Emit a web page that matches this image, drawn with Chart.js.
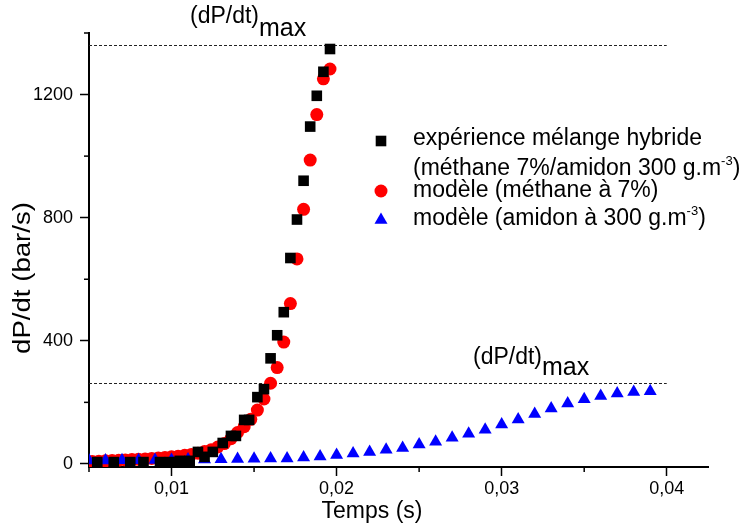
<!DOCTYPE html>
<html>
<head>
<meta charset="utf-8">
<script src="https://cdn.jsdelivr.net/npm/chart.js@4.4.1/dist/chart.umd.min.js"></script>
<style>
  html, body { margin: 0; padding: 0; background: #fff; }
  #wrap { width: 744px; height: 526px; }
</style>
</head>
<body>
<div id="wrap"><canvas id="chart"></canvas></div>
<script>
const FONT = '"Liberation Sans", Arial, sans-serif';

// experiment, hybrid mixture (black squares)
const expTime = [0.0055, 0.0065, 0.0075, 0.0083, 0.0093, 0.0099, 0.0105, 0.0111, 0.0116, 0.0120,
                 0.0125, 0.0131, 0.0136, 0.0139, 0.0144, 0.0147, 0.0152, 0.0156, 0.0160, 0.0164,
                 0.0168, 0.0172, 0.0176, 0.0180, 0.0184, 0.0188, 0.0192, 0.0196];
const expRate = [6, 6, 6, 6, 6, 6, 10, 10, 39, 23,
                 39, 68, 91, 91, 143, 143, 217, 243, 343, 418,
                 493, 669, 794, 920, 1096, 1196, 1274, 1348];

// model, methane 7% (red circles)
const methTime = [0.0052, 0.0056, 0.0060, 0.0064, 0.0068, 0.0072, 0.0076, 0.0080, 0.0084, 0.0088,
                  0.0092, 0.0096, 0.0100, 0.0104, 0.0108, 0.0112, 0.0116, 0.0120, 0.0124, 0.0128,
                  0.0132, 0.0136, 0.0140, 0.0144, 0.0148, 0.0152, 0.0156, 0.0160, 0.0164, 0.0168,
                  0.0172, 0.0176, 0.0180, 0.0184, 0.0188, 0.0192, 0.0196];
const methRate = [8, 9, 10, 11, 12, 13, 14, 15, 16, 18,
                  19, 21, 23, 25, 28, 31, 35, 40, 46, 55,
                  66, 82, 102, 121, 145, 175, 211, 262, 313, 396,
                  521, 666, 827, 987, 1135, 1251, 1283];

// model, starch 300 g/m3 (blue triangles)
const amidTime = [0.005, 0.006, 0.007, 0.008, 0.009, 0.010, 0.011, 0.012, 0.013, 0.014,
                  0.015, 0.016, 0.017, 0.018, 0.019, 0.020, 0.021, 0.022, 0.023, 0.024,
                  0.025, 0.026, 0.027, 0.028, 0.029, 0.030, 0.031, 0.032, 0.033, 0.034,
                  0.035, 0.036, 0.037, 0.038, 0.039];
const amidRate = [11, 11, 12, 12, 13, 13, 14, 14, 15, 16,
                  17, 18, 18, 21, 24, 29, 34, 39, 46, 52,
                  63, 72, 85, 98, 111, 128, 144, 162, 180, 196,
                  210, 221, 229, 234, 236];

const yTickValues = [0, 200, 400, 600, 800, 1000, 1200, 1400];
const xTickValues = [0.005, 0.01, 0.015, 0.02, 0.025, 0.03, 0.035, 0.04];
const maxLevels = [1362, 263];   // (dP/dt)max dashed lines

const isMajorY = v => v % 400 === 0;
const isMajorX = v => Math.abs(v * 100 - Math.round(v * 100)) < 1e-6;

const pts = (xs, ys) => xs.map((t, i) => ({ x: t, y: ys[i] }));

function drawMarker(ctx, style, x, y, r, color) {
  ctx.fillStyle = color;
  ctx.beginPath();
  if (style === 'rect') {
    const s = Math.SQRT1_2 * r;
    ctx.rect(x - s, y - s, 2 * s, 2 * s);
  } else if (style === 'circle') {
    ctx.arc(x, y, r, 0, Math.PI * 2);
  } else {
    ctx.moveTo(x, y - r);
    ctx.lineTo(x + 0.866 * r, y + 0.5 * r);
    ctx.lineTo(x - 0.866 * r, y + 0.5 * r);
    ctx.closePath();
  }
  ctx.fill();
}

function subText(ctx, parts, x, y) {
  // parts: [text, size, dy]
  parts.forEach(([t, size, dy]) => {
    ctx.font = size + 'px ' + FONT;
    ctx.fillText(t, x, y + dy);
    x += ctx.measureText(t).width;
  });
}

const overlay = {
  id: 'overlay',
  beforeDatasetsDraw(chart) {
    const { ctx, scales: { x, y } } = chart;
    ctx.save();
    ctx.strokeStyle = '#222';
    ctx.lineWidth = 1;
    ctx.setLineDash([3, 2]);
    maxLevels.forEach(v => {
      const py = Math.round(y.getPixelForValue(v)) + 0.5;
      ctx.beginPath();
      ctx.moveTo(x.getPixelForValue(0.005), py);
      ctx.lineTo(x.getPixelForValue(0.04), py);
      ctx.stroke();
    });
    ctx.restore();
  },
  afterDraw(chart) {
    const { ctx, scales: { x, y }, chartArea } = chart;
    ctx.save();
    ctx.fillStyle = '#000';
    ctx.strokeStyle = '#000';
    ctx.lineWidth = 1.5;

    // minor ticks (shorter)
    yTickValues.filter(v => !isMajorY(v)).forEach(v => {
      const py = y.getPixelForValue(v);
      ctx.beginPath(); ctx.moveTo(chartArea.left - 5, py); ctx.lineTo(chartArea.left, py); ctx.stroke();
    });
    xTickValues.filter(v => !isMajorX(v)).forEach(v => {
      const px = x.getPixelForValue(v);
      ctx.beginPath(); ctx.moveTo(px, chartArea.bottom); ctx.lineTo(px, chartArea.bottom + 5); ctx.stroke();
    });

    // axis titles
    ctx.textBaseline = 'alphabetic';
    ctx.textAlign = 'center';
    ctx.font = '23px ' + FONT;
    ctx.fillText('Temps (s)', 372, 518);
    ctx.save();
    ctx.translate(30, 278);
    ctx.rotate(-Math.PI / 2);
    ctx.scale(1.2, 1);
    ctx.fillText('dP/dt (bar/s)', 0, 0);
    ctx.restore();

    // (dP/dt)max annotations
    ctx.textAlign = 'left';
    subText(ctx, [['(dP/dt)', 23, 0], ['max', 25, 13]], 190, 23);
    subText(ctx, [['(dP/dt)', 23, 0], ['max', 25, 11]], 473, 364);

    // legend
    drawMarker(ctx, 'rect', 381, 141, 7.5, '#000');
    drawMarker(ctx, 'circle', 381, 191, 6.5, '#ff0000');
    drawMarker(ctx, 'triangle', 381, 220, 7.5, '#0000ff');
    ctx.fillStyle = '#000';
    subText(ctx, [['expérience mélange hybride', 23, 0]], 413, 145);
    subText(ctx, [['(méthane 7%/amidon 300 g.m', 23, 0], ['-3', 13, -10], [')', 23, 0]], 413, 175);
    subText(ctx, [['modèle (méthane à 7%)', 23, 0]], 413, 197);
    subText(ctx, [['modèle (amidon à 300 g.m', 23, 0], ['-3', 13, -10], [')', 23, 0]], 413, 225);

    ctx.restore();
  }
};

new Chart(document.getElementById('chart'), {
  type: 'scatter',
  data: {
    datasets: [
      {
        label: 'expérience mélange hybride',
        data: pts(expTime, expRate),
        pointStyle: 'rect',
        pointRadius: 7.5,
        pointBackgroundColor: '#000',
        pointBorderWidth: 0,
        order: 0,
        clip: 0
      },
      {
        label: 'modèle (amidon à 300 g.m-3)',
        data: pts(amidTime, amidRate),
        pointStyle: 'triangle',
        pointRadius: 7.5,
        pointBackgroundColor: '#0000ff',
        pointBorderWidth: 0,
        order: 1,
        clip: 0
      },
      {
        label: 'modèle (méthane à 7%)',
        data: pts(methTime, methRate),
        pointStyle: 'circle',
        pointRadius: 6.5,
        pointBackgroundColor: '#ff0000',
        pointBorderWidth: 0,
        order: 2,
        clip: 0
      }
    ]
  },
  options: {
    responsive: true,
    maintainAspectRatio: false,
    animation: false,
    events: [],
    layout: { padding: { top: 33, right: 36, left: 0, bottom: 0 } },
    plugins: {
      legend: { display: false },
      tooltip: { enabled: false }
    },
    scales: {
      x: {
        type: 'linear',
        position: 'bottom',
        min: 0.005,
        max: 0.0425,
        afterBuildTicks: s => { s.ticks = xTickValues.map(v => ({ value: v })); },
        afterFit: s => { s.height = 59; },
        border: { display: true, color: '#000', width: 2 },
        grid: {
          drawOnChartArea: false,
          tickLength: 9,
          tickWidth: 1.5,
          tickColor: c => (c.tick && isMajorX(c.tick.value)) ? '#000' : 'rgba(0,0,0,0)'
        },
        ticks: {
          autoSkip: false,
          maxRotation: 0,
          padding: 2,
          color: '#000',
          font: { family: FONT, size: 18 },
          callback: v => isMajorX(v) ? v.toFixed(2).replace('.', ',') : ''
        }
      },
      y: {
        type: 'linear',
        min: -10,
        max: 1400,
        afterBuildTicks: s => { s.ticks = yTickValues.map(v => ({ value: v })); },
        afterFit: s => { s.width = 89; },
        border: { display: true, color: '#000', width: 2 },
        grid: {
          drawOnChartArea: false,
          tickLength: 9,
          tickWidth: 1.5,
          tickColor: c => (c.tick && isMajorY(c.tick.value)) ? '#000' : 'rgba(0,0,0,0)'
        },
        ticks: {
          autoSkip: false,
          padding: 7,
          color: '#000',
          font: { family: FONT, size: 18 },
          callback: v => isMajorY(v) ? String(v) : ''
        }
      }
    }
  },
  plugins: [overlay]
});
</script>
</body>
</html>
